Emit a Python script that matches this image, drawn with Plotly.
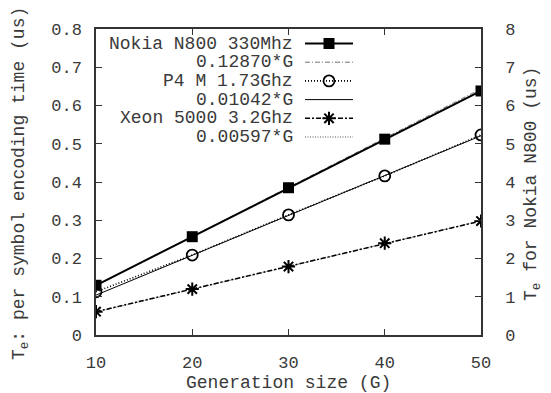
import plotly.graph_objects as go

# ---- data ----
G = [10, 20, 30, 40, 50]
nokia_us = [1.30, 2.57, 3.85, 5.12, 6.38]          # right axis (us)
nokia_fit = [1.287, 2.574, 3.861, 5.148, 6.435]    # 0.12870*G
p4 = [0.113, 0.209, 0.314, 0.416, 0.523]           # left axis (us)
p4_fit = [0.1042, 0.2084, 0.3126, 0.4168, 0.5210]  # 0.01042*G
xeon = [0.061, 0.120, 0.179, 0.240, 0.298]
xeon_fit = [0.0597, 0.1194, 0.1791, 0.2388, 0.2985]  # 0.00597*G

left_ticks = [0, 0.1, 0.2, 0.3, 0.4, 0.5, 0.6, 0.7, 0.8]
left_ticktext = ["0", "0.1", "0.2", "0.3", "0.4", "0.5", "0.6", "0.7", "0.8"]

legend_labels = ["Nokia N800 330Mhz", "0.12870*G", "P4 M 1.73Ghz",
                 "0.01042*G", "Xeon 5000 3.2Ghz", "0.00597*G"]

FONT = "Liberation Mono"
INK = "#3a3a3a"
AX = "#333333"
FS = 18

# plot area in pixels
W, H = 551, 393
L, R, T, B = 96, 481, 29, 335
PW, PH = R - L, B - T

styles = [
    dict(line=dict(color="black", width=2, dash="solid"),
         marker=dict(symbol="square", size=11, color="black")),
    dict(line=dict(color="#777777", width=1, dash="5px,2px,1px,2px"), marker=None),
    dict(line=dict(color="black", width=1.6, dash="1px,2px"),
         marker=dict(symbol="circle-open", size=11, color="black", line=dict(width=1.8))),
    dict(line=dict(color="black", width=1, dash="solid"), marker=None),
    dict(line=dict(color="black", width=1.5, dash="5px,2px,2px,2px"),
         marker=dict(symbol="asterisk-open", size=11, color="black", line=dict(width=2, color="black"))),
    dict(line=dict(color="#555555", width=1, dash="1px,1.5px"), marker=None),
]

fig = go.Figure()

def add_series(x, y, st, axis):
    kw = dict(x=x, y=y, yaxis=axis, showlegend=False, hoverinfo="skip",
              line=st["line"])
    if st["marker"] is not None:
        kw["mode"] = "lines+markers"
        kw["marker"] = st["marker"]
    else:
        kw["mode"] = "lines"
    fig.add_trace(go.Scatter(**kw))

# fits first, data on top
add_series(G, nokia_fit, styles[1], "y2")
add_series(G, p4_fit, styles[3], "y")
add_series(G, xeon_fit, styles[5], "y")
add_series(G, nokia_us, styles[0], "y2")
add_series(G, p4, styles[2], "y")
add_series(G, xeon, styles[4], "y")

# ---- gnuplot-style legend (text right, sample on the right) ----
row_y = [14.5, 33.2, 51.9, 70.6, 89.3, 108.0]   # px below top of plot area
text_right = 295 - L
samp_x0, samp_x1 = 305 - L, 353 - L
for lab, st, ry in zip(legend_labels, styles, row_y):
    fig.add_trace(go.Scatter(x=[samp_x0, samp_x1], y=[ry, ry], xaxis="x3", yaxis="y3",
                             mode="lines", line=st["line"], showlegend=False, hoverinfo="skip"))
    if st["marker"] is not None:
        fig.add_trace(go.Scatter(x=[(samp_x0 + samp_x1) / 2], y=[ry], xaxis="x3", yaxis="y3",
                                 mode="markers", marker=st["marker"], showlegend=False,
                                 hoverinfo="skip"))
    fig.add_annotation(x=text_right, y=ry, xref="x3", yref="y3", text=lab,
                       showarrow=False, xanchor="right", yanchor="middle",
                       font=dict(family=FONT, size=FS, color=INK))

# ---- axis titles as annotations (pixel-placed) ----
def px(xp):
    return (xp - L) / PW

def py(yp):
    return (B - yp) / PH

title_font = dict(family=FONT, size=FS, color=INK)
fig.add_annotation(x=px(288), y=py(383), xref="paper", yref="paper",
                   text="Generation size (G)", showarrow=False,
                   xanchor="center", yanchor="middle", font=title_font)
fig.add_annotation(x=px(20), y=py(184), xref="paper", yref="paper",
                   text="T<sub>e</sub>: per symbol encoding time (us)", showarrow=False,
                   textangle=-90, xanchor="center", yanchor="middle", font=title_font)
fig.add_annotation(x=px(532), y=py(184), xref="paper", yref="paper",
                   text="T<sub>e</sub> for Nokia N800 (us)", showarrow=False,
                   textangle=-90, xanchor="center", yanchor="middle", font=title_font)

common = dict(showline=True, linecolor=AX, linewidth=1.5, ticks="inside",
              ticklen=6, tickcolor=AX, tickwidth=1, showgrid=False, zeroline=False,
              automargin=False,
              tickfont=dict(family=FONT, size=FS - 1, color=INK))

fig.update_layout(
    width=W, height=H,
    margin=dict(l=L, r=W - R, t=T, b=H - B),
    plot_bgcolor="white", paper_bgcolor="white",
    xaxis=dict(range=[10, 50], tickvals=G, mirror="ticks", ticklabelstandoff=11, **common),
    yaxis=dict(range=[0, 0.8], tickvals=left_ticks, ticktext=left_ticktext,
               ticklabelstandoff=9, **common),
    yaxis2=dict(range=[0, 8], dtick=1, overlaying="y", side="right", ticklabelstandoff=19,
                **common),
    xaxis3=dict(range=[0, PW], overlaying="x", visible=False, fixedrange=True),
    yaxis3=dict(range=[PH, 0], overlaying="y", visible=False, fixedrange=True),
)

fig.write_html("out.html")
